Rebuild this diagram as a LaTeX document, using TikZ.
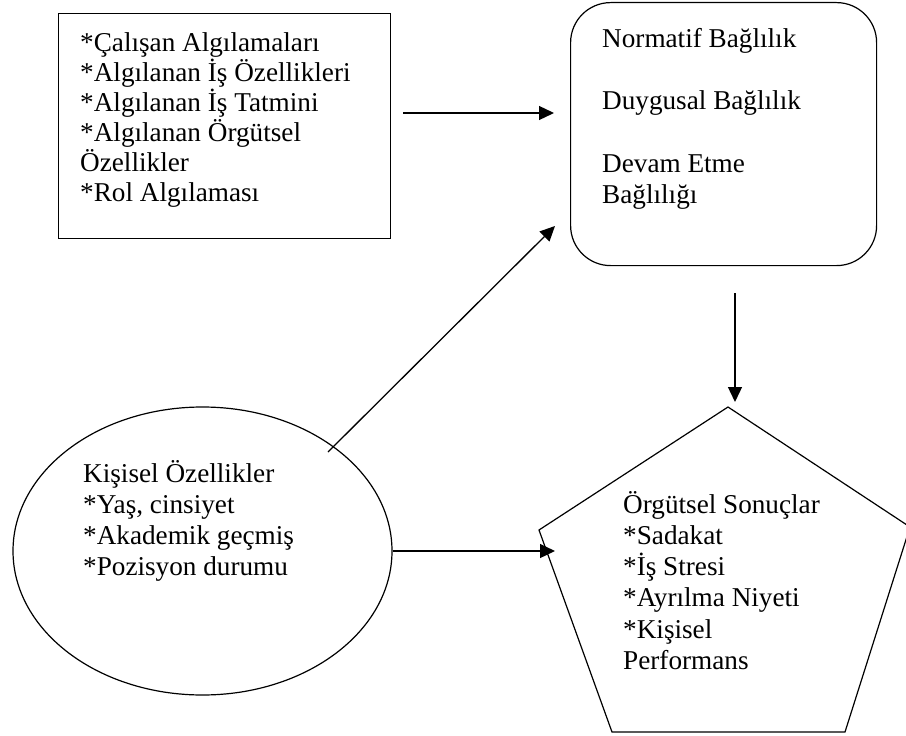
\documentclass[tikz,border=0pt]{standalone}
\usepackage{fontspec}
\setmainfont{Liberation Serif}
\usetikzlibrary{arrows.meta,shapes.geometric}
% left-aligned lines, baseline of the node = baseline of the first line
\newcommand\textlines[2][30pt]{\vtop{\baselineskip=#1\relax\lineskiplimit=-1000pt\relax\halign{##\hfil\cr#2\crcr}}}
\begin{document}
\begin{tikzpicture}[x=1pt,y=-1pt,
  outline/.style={draw=black,line width=1.2pt,inner sep=0pt},
  txt/.style={anchor=base west,inner sep=0pt,font=\fontsize{27.2pt}{30pt}\selectfont},
  arr/.style={line width=1.3pt,-{Triangle[length=15pt,width=14pt]}}]
\useasboundingbox (0,0) rectangle (906,736);
\fill[white] (0,0) rectangle (906,736);
\clip (0,0) rectangle (906,736);

% shapes
\node[outline,rectangle,anchor=north west,minimum width=332pt,minimum height=225pt] (percept) at (58,13) {};
\node[outline,rectangle,rounded corners=40pt,anchor=north west,minimum width=306pt,minimum height=263pt] (commit) at (570,2) {};
\node[outline,ellipse,minimum width=379pt,minimum height=288pt] (personal) at (202.5,551) {};
\coordinate (pTop) at (728,407);
\coordinate (pRight) at (910,527);
\coordinate (pBotR) at (845,732);
\coordinate (pBotL) at (612,732);
\coordinate (pLeft) at (539,530);
\draw[line width=1.2pt,line join=miter] (pTop) -- (pRight) -- (pBotR) -- (pBotL) -- (pLeft) -- cycle;

% texts
\node[txt] (perceptText) at (80,52) {\textlines{*Çalışan Algılamaları\cr
  *Algılanan İş Özellikleri\cr
  *Algılanan İş Tatmini\cr
  *Algılanan Örgütsel\cr
  Özellikler\cr
  *Rol Algılaması}};
\node[txt] (commitText) at (602,47) {\textlines[31.3pt]{Normatif Bağlılık\cr\cr
  Duygusal Bağlılık\cr\cr
  Devam Etme\cr
  Bağlılığı}};
\node[txt] (personalText) at (83,482) {\textlines[31pt]{Kişisel Özellikler\cr
  *Yaş, cinsiyet\cr
  *Akademik geçmiş\cr
  *Pozisyon durumu}};
\node[txt] (outcomeText) at (623,513) {\textlines[31.3pt]{Örgütsel Sonuçlar\cr
  *Sadakat\cr
  *İş Stresi\cr
  *Ayrılma Niyeti\cr
  *Kişisel\cr
  Performans}};

% connectors
\coordinate (perceptOut) at (403,113);
\coordinate (commitInA) at (554,113);
\coordinate (personalOutA) at (328,452);
\coordinate (commitInB) at (555,226);
\coordinate (commitOut) at (735,293);
\coordinate (outcomeInA) at (735,402);
\coordinate (outcomeInB) at (555,551);
\draw[arr] (perceptOut) -- (commitInA);
\draw[arr] (personalOutA) -- (commitInB);
\draw[arr] (commitOut) -- (outcomeInA);
\draw[arr] (personal.east) -- (outcomeInB);
\end{tikzpicture}
\end{document}
